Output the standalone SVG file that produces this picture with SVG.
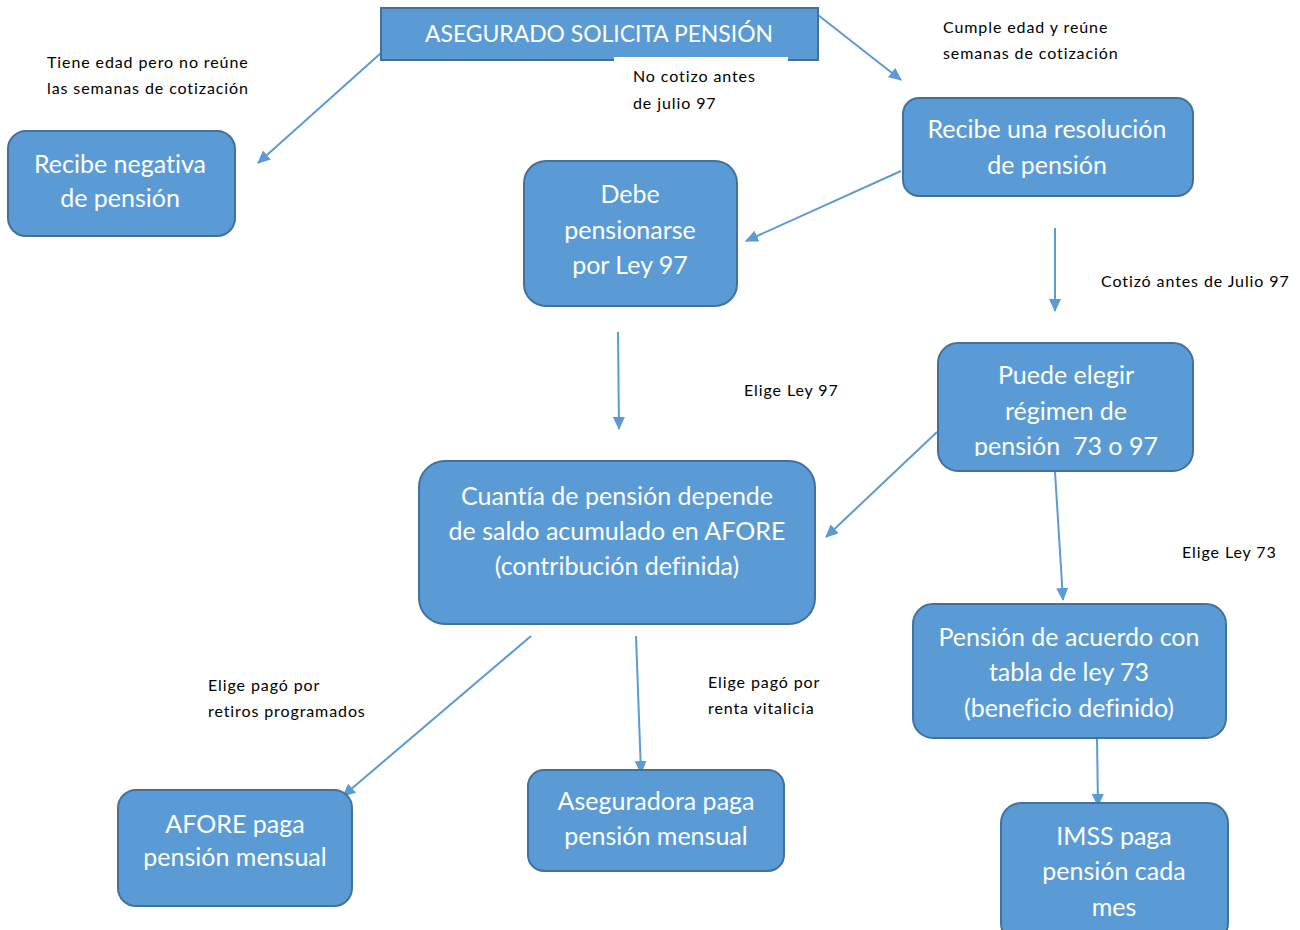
<svg xmlns="http://www.w3.org/2000/svg" width="1300" height="930" viewBox="0 0 1300 930">
<style>
.box{fill:#5B9BD5;stroke:#41719C;stroke-width:2}
.bt{font-family:Lato,"Open Sans",sans-serif;font-size:25px;fill:#fff;text-anchor:middle;font-variant-ligatures:no-common-ligatures}
.lb{font-family:Lato,"Open Sans",sans-serif;font-size:16px;letter-spacing:0.9px;fill:#000}
.cn line{stroke:#5B9BD5;stroke-width:2;marker-end:url(#ah)}
</style>
<defs>
<marker id="ah" viewBox="0 0 13 12" refX="12" refY="6" markerWidth="13" markerHeight="12" markerUnits="userSpaceOnUse" orient="auto"><path d="M0,0 L13,6 L0,12 z" fill="#5B9BD5"/></marker>
<clipPath id="clipPE"><rect x="938" y="343" width="256" height="113"/></clipPath>
</defs>
<rect width="1300" height="930" fill="#fff"/>
<g class="cn" id="connectors">
<line x1="381" y1="53" x2="258" y2="163"/>
<line x1="818" y1="15" x2="901" y2="80"/>
<line x1="901" y1="171" x2="746" y2="241"/>
<line x1="1055" y1="228" x2="1055" y2="311"/>
<line x1="618" y1="332" x2="619" y2="429"/>
<line x1="937" y1="432" x2="826" y2="537"/>
<line x1="1055" y1="472" x2="1063" y2="600"/>
<line x1="531" y1="636" x2="343" y2="796"/>
<line x1="636" y1="636" x2="641" y2="773"/>
<line x1="1097" y1="739" x2="1098" y2="806"/>
</g>
<g id="n-asegurado">
<rect class="box" x="381" y="8" width="437" height="52" stroke-width="2.5"/>
<text class="bt" x="599" y="42" style="font-size:22.9px">ASEGURADO SOLICITA PENSIÓN</text>
</g>
<rect x="614" y="57" width="174" height="60" fill="#fff"/>
<g id="n-negativa">
<rect class="box" x="8" y="131" width="227" height="105" rx="18"/>
<text class="bt" x="120" y="173">Recibe negativa</text>
<text class="bt" x="120" y="207">de pensión</text>
</g>
<g id="n-resolucion">
<rect class="box" x="903" y="98" width="290" height="98" rx="16"/>
<text class="bt" x="1047" y="138">Recibe una resolución</text>
<text class="bt" x="1047" y="174">de pensión</text>
</g>
<g id="n-debe">
<rect class="box" x="524" y="161" width="213" height="145" rx="22"/>
<text class="bt" x="630" y="203">Debe</text>
<text class="bt" x="630" y="239">pensionarse</text>
<text class="bt" x="630" y="274">por Ley 97</text>
</g>
<g id="n-puede">
<rect class="box" x="938" y="343" width="255" height="128" rx="20"/>
<g clip-path="url(#clipPE)">
<text class="bt" x="1066" y="384">Puede elegir</text>
<text class="bt" x="1066" y="420">régimen de</text>
<text class="bt" x="1066" y="455" xml:space="preserve">pensión  73 o 97</text>
</g>
</g>
<g id="n-cuantia">
<rect class="box" x="419" y="461" width="396" height="163" rx="26"/>
<text class="bt" x="617" y="505">Cuantía de pensión depende</text>
<text class="bt" x="617" y="540">de saldo acumulado en AFORE</text>
<text class="bt" x="617" y="575">(contribución definida)</text>
</g>
<g id="n-ley73">
<rect class="box" x="913" y="604" width="313" height="134" rx="20"/>
<text class="bt" x="1069" y="646">Pensión de acuerdo con</text>
<text class="bt" x="1069" y="681">tabla de ley 73</text>
<text class="bt" x="1069" y="717">(beneficio definido)</text>
</g>
<g id="n-afore">
<rect class="box" x="118" y="790" width="234" height="116" rx="18"/>
<text class="bt" x="235" y="833">AFORE paga</text>
<text class="bt" x="235" y="866">pensión mensual</text>
</g>
<g id="n-aseguradora">
<rect class="box" x="528" y="770" width="256" height="101" rx="16"/>
<text class="bt" x="656" y="810">Aseguradora paga</text>
<text class="bt" x="656" y="845">pensión mensual</text>
</g>
<g id="n-imss">
<rect class="box" x="1001" y="803" width="227" height="140" rx="20"/>
<text class="bt" x="1114" y="845">IMSS paga</text>
<text class="bt" x="1114" y="880">pensión cada</text>
<text class="bt" x="1114" y="916">mes</text>
</g>
<g id="labels">
<text class="lb" x="47" y="68">Tiene edad pero no reúne</text>
<text class="lb" x="47" y="94">las semanas de cotización</text>
<text class="lb" x="943" y="33">Cumple edad y reúne</text>
<text class="lb" x="943" y="59">semanas de cotización</text>
<text class="lb" x="633" y="82">No cotizo antes</text>
<text class="lb" x="633" y="109">de julio 97</text>
<text class="lb" x="1101" y="287">Cotizó antes de Julio 97</text>
<text class="lb" x="744" y="396">Elige Ley 97</text>
<text class="lb" x="1182" y="558">Elige Ley 73</text>
<text class="lb" x="208" y="691">Elige pagó por</text>
<text class="lb" x="208" y="717">retiros programados</text>
<text class="lb" x="708" y="688">Elige pagó por</text>
<text class="lb" x="708" y="714">renta vitalicia</text>
</g>
</svg>
